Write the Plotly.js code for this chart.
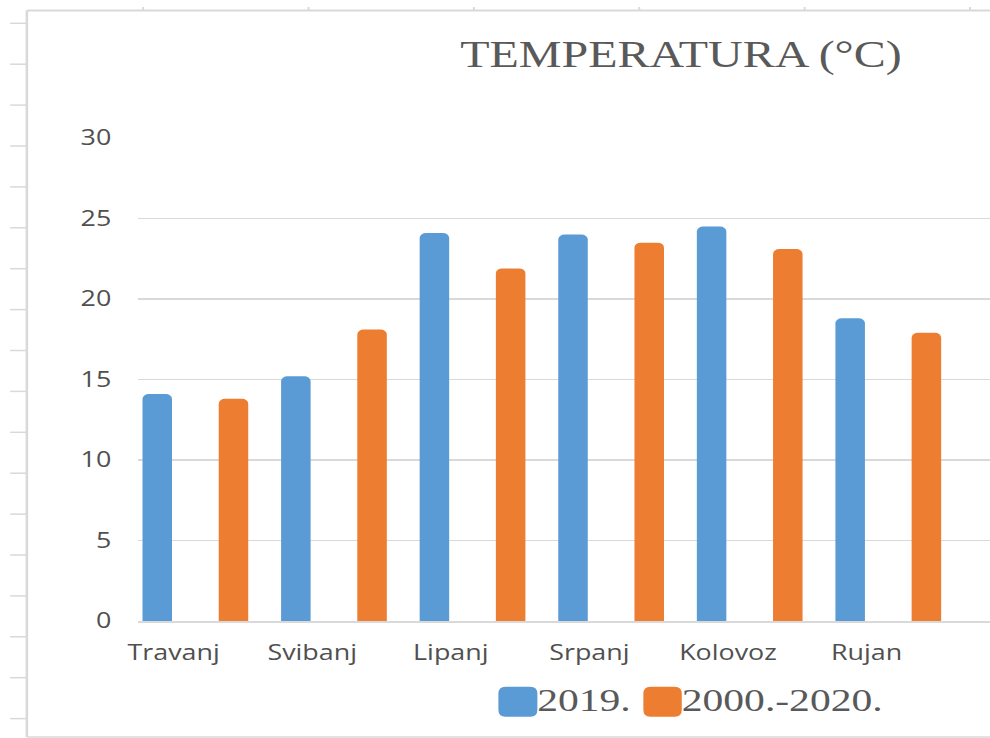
<!DOCTYPE html>
<html>
<head>
<meta charset="utf-8">
<script src="https://cdn.plot.ly/plotly-3.0.1.min.js"></script>
<style>
  html, body { margin: 0; padding: 0; background: #ffffff; overflow: hidden; width: 990px; height: 738px; }
  #chart { width: 774px; height: 738px; transform: scaleX(1.27907); transform-origin: 0 0; }
</style>
</head>
<body>
<div id="chart"></div>
<script>
// ---- data ----
const months = ['Travanj', 'Svibanj', 'Lipanj', 'Srpanj', 'Kolovoz', 'Rujan'];
const temp2019 = [14.1, 15.2, 24.1, 24.0, 24.5, 18.8];
const tempAvg = [13.8, 18.1, 21.9, 23.5, 23.1, 17.9];
const seriesNames = ['2019.', '2000.-2020.'];
const yTickVals = [0, 5, 10, 15, 20, 25, 30];
const chartTitle = 'TEMPERATURA (°C)';

// ---- geometry (reference pixels are stretched horizontally by S) ----
const W = 774, H = 738, S = 990 / W;
const L = 138 / S, R = 0, T = 138, B = H - 621;
const PW = W - L - R, PH = H - T - B;
const px = (refX) => (refX / S - L) / PW;      // reference x px -> paper x
const py = (refY) => (H - B - refY) / PH;      // reference y px -> paper y

const blue = '#5B9BD5', orange = '#ED7D31', txt = '#595959', grid = '#D9D9D9';

const barW = 0.213, gapHalf = 0.275;
const traces = [
  { type: 'bar', x: months, y: temp2019, name: seriesNames[0],
    marker: { color: blue, cornerradius: 5 }, width: barW, offset: -gapHalf - barW / 2,
    showlegend: false, hoverinfo: 'x+y+name' },
  { type: 'bar', x: months, y: tempAvg, name: seriesNames[1],
    marker: { color: orange, cornerradius: 5 }, width: barW, offset: gapHalf - barW / 2,
    showlegend: false, hoverinfo: 'x+y+name' }
];

// ---- decoration: spreadsheet frame ----
const shapes = [];
const line = (x0, y0, x1, y1, w) => shapes.push({ type: 'line', xref: 'paper', yref: 'paper',
  x0: px(x0), y0: py(y0), x1: px(x1), y1: py(y1), line: { color: grid, width: w || 1.5 } });
line(26.7, 10.5, 26.7, 737, 2);
line(26.7, 10.5, 995, 10.5, 2);
line(26.7, 737, 995, 737, 1.5);
for (let k = 0; k < 18; k++) { const y = 23.3 + 40.9 * k; line(10, y, 26.7, y, 1.5); }
for (let k = 0; k < 6; k++) { const x = 143 + 165.4 * k; line(x, 7, x, 10.5, 1.5); }

// ---- legend (drawn manually to match large rounded swatches) ----
function roundRect(x0, y0, x1, y1, r, color) {
  const rx = r, ry = r;
  const p = (x, y) => px(x) + ',' + py(y);
  const d = 'M' + p(x0 + rx, y0) + ' L' + p(x1 - rx, y0) + ' Q' + p(x1, y0) + ' ' + p(x1, y0 + ry) +
    ' L' + p(x1, y1 - ry) + ' Q' + p(x1, y1) + ' ' + p(x1 - rx, y1) +
    ' L' + p(x0 + rx, y1) + ' Q' + p(x0, y1) + ' ' + p(x0, y1 - ry) +
    ' L' + p(x0, y0 + ry) + ' Q' + p(x0, y0) + ' ' + p(x0 + rx, y0) + ' Z';
  shapes.push({ type: 'path', xref: 'paper', yref: 'paper', path: d,
    fillcolor: color, line: { width: 0 } });
}
roundRect(498.3, 686.7, 537.3, 716.7, 7, blue);
roundRect(643.3, 686.7, 681.7, 716.7, 7, orange);

const annotations = [
  { xref: 'paper', yref: 'paper', x: px(536), y: py(699.5), xanchor: 'left', yanchor: 'middle',
    text: seriesNames[0], showarrow: false, borderpad: 0,
    font: { family: 'Liberation Serif, Times New Roman, serif', size: 32.5, color: txt } },
  { xref: 'paper', yref: 'paper', x: px(680), y: py(699.5), xanchor: 'left', yanchor: 'middle',
    text: seriesNames[1], showarrow: false, borderpad: 0,
    font: { family: 'Liberation Serif, Times New Roman, serif', size: 32.5, color: txt } }
];

const layout = {
  width: W, height: H,
  margin: { l: L, r: R, t: T, b: B, pad: 0 },
  paper_bgcolor: '#ffffff', plot_bgcolor: '#ffffff',
  barmode: 'overlay',
  title: { text: chartTitle, x: 681 / 990, xref: 'container', xanchor: 'center',
    y: 1 - 54 / H, yref: 'container', yanchor: 'middle',
    font: { family: 'Liberation Serif, Times New Roman, serif', size: 37.5, color: txt } },
  xaxis: { type: 'category', range: [-0.413, 5.734], showgrid: false,
    showline: true, linecolor: grid, linewidth: 1.5, ticks: '', zeroline: false,
    ticklabelshift: -17, ticklabelstandoff: 12,
    tickfont: { family: 'Open Sans, Noto Sans, sans-serif', size: 21, color: '#505050' },
    fixedrange: true },
  yaxis: { range: [0, 30], tickvals: yTickVals, ticktext: yTickVals.map(String),
    showgrid: true, gridcolor: grid, gridwidth: 1.5, zeroline: false, showline: false,
    ticks: '', ticklabelstandoff: 20,
    tickfont: { family: 'Open Sans, Noto Sans, sans-serif', size: 21, color: '#505050' },
    fixedrange: true },
  shapes: shapes,
  annotations: annotations,
  showlegend: false
};

Plotly.newPlot('chart', traces, layout, { displayModeBar: false, staticPlot: true });
</script>
</body>
</html>
